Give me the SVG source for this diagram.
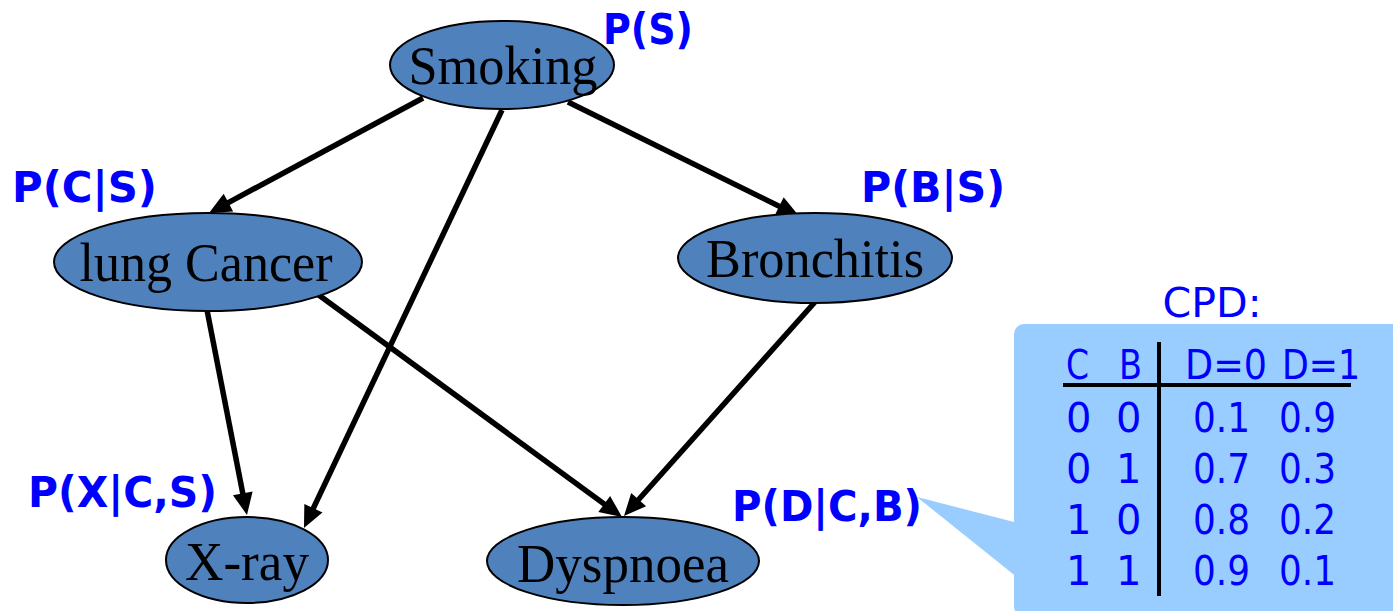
<svg xmlns="http://www.w3.org/2000/svg" width="1393" height="611" viewBox="0 0 1393 611">
  <style>
    .node ellipse { fill: #4f81bd; stroke: #000; stroke-width: 2; }
    .node text { font-family: "Liberation Serif", "Times New Roman", serif; font-size: 54px; fill: #000; text-anchor: middle; }
    .edge { stroke: #000; stroke-width: 5.5; fill: none; marker-end: url(#arrow); }
    .prob { font-family: "DejaVu Sans", Verdana, sans-serif; font-weight: bold; font-size: 42px; fill: #0000ff; }
    .cpd { font-family: "DejaVu Sans", Verdana, sans-serif; font-size: 40px; fill: #0000ff; }
  </style>
  <defs>
    <marker id="arrow" markerUnits="userSpaceOnUse" markerWidth="22" markerHeight="20" refX="10" refY="10" orient="auto" overflow="visible">
      <path d="M0,0 L22,10 L0,20 z" fill="#000"/>
    </marker>
  </defs>

  <!-- connectors -->
  <g id="edges">
    <path class="edge" d="M423,98 L219.6,207.3"/>
    <path class="edge" d="M502,110 L309.1,517.2"/>
    <path class="edge" d="M568,102 L788.2,210.7"/>
    <path class="edge" d="M207,310 L244.7,503.2"/>
    <path class="edge" d="M316,293 L612.3,509.9"/>
    <path class="edge" d="M815,302 L632,507"/>
  </g>

  <!-- network nodes -->
  <g id="smoking" class="node">
    <ellipse cx="502" cy="65" rx="112" ry="44"/>
    <text x="503" y="84" textLength="189" lengthAdjust="spacingAndGlyphs">Smoking</text>
  </g>
  <g id="lung-cancer" class="node">
    <ellipse cx="208" cy="262" rx="154" ry="49"/>
    <text x="206" y="281" textLength="253" lengthAdjust="spacingAndGlyphs">lung Cancer</text>
  </g>
  <g id="bronchitis" class="node">
    <ellipse cx="815" cy="258" rx="137" ry="45"/>
    <text x="815" y="277" textLength="218" lengthAdjust="spacingAndGlyphs">Bronchitis</text>
  </g>
  <g id="x-ray" class="node">
    <ellipse cx="247" cy="560" rx="81" ry="43"/>
    <text x="247" y="580" textLength="124" lengthAdjust="spacingAndGlyphs">X-ray</text>
  </g>
  <g id="dyspnoea" class="node">
    <ellipse cx="623" cy="561" rx="136" ry="44"/>
    <text x="623" y="582" textLength="212" lengthAdjust="spacingAndGlyphs">Dyspnoea</text>
  </g>

  <!-- probability labels -->
  <g id="labels">
    <text class="prob" x="603" y="44" textLength="90" lengthAdjust="spacingAndGlyphs">P(S)</text>
    <text class="prob" x="12" y="202" textLength="145" lengthAdjust="spacingAndGlyphs">P(C|S)</text>
    <text class="prob" x="861" y="202" textLength="144" lengthAdjust="spacingAndGlyphs">P(B|S)</text>
    <text class="prob" x="28" y="507" textLength="189" lengthAdjust="spacingAndGlyphs">P(X|C,S)</text>
    <text class="prob" x="732" y="521" textLength="190" lengthAdjust="spacingAndGlyphs">P(D|C,B)</text>
  </g>

  <!-- conditional probability table callout -->
  <g id="cpd">
    <text class="cpd" x="1212" y="317" text-anchor="middle" font-size="44" textLength="99" lengthAdjust="spacingAndGlyphs">CPD:</text>
    <polygon points="917,497 1018,523 1018,578" fill="#99ccff"/>
    <rect x="1014" y="324" width="390" height="292" rx="10" fill="#99ccff"/>
    <line x1="1159" y1="342" x2="1159" y2="596" stroke="#000" stroke-width="4"/>
    <line x1="1063" y1="385" x2="1351" y2="385" stroke="#000" stroke-width="4"/>
    <g class="cpd">
      <text x="1066" y="379" textLength="23" lengthAdjust="spacingAndGlyphs">C</text>
      <text x="1119" y="379" textLength="23" lengthAdjust="spacingAndGlyphs">B</text>
      <text x="1185" y="379" textLength="82" lengthAdjust="spacingAndGlyphs">D=0</text>
      <text x="1282" y="379" textLength="78" lengthAdjust="spacingAndGlyphs">D=1</text>

      <text x="1066" y="432">0</text><text x="1116" y="432">0</text>
      <text x="1193" y="432" textLength="57" lengthAdjust="spacingAndGlyphs">0.1</text><text x="1279" y="432" textLength="57" lengthAdjust="spacingAndGlyphs">0.9</text>

      <text x="1066" y="483">0</text><text x="1116" y="483">1</text>
      <text x="1193" y="483" textLength="57" lengthAdjust="spacingAndGlyphs">0.7</text><text x="1279" y="483" textLength="57" lengthAdjust="spacingAndGlyphs">0.3</text>

      <text x="1066" y="534">1</text><text x="1116" y="534">0</text>
      <text x="1193" y="534" textLength="57" lengthAdjust="spacingAndGlyphs">0.8</text><text x="1279" y="534" textLength="57" lengthAdjust="spacingAndGlyphs">0.2</text>

      <text x="1066" y="585">1</text><text x="1116" y="585">1</text>
      <text x="1193" y="585" textLength="57" lengthAdjust="spacingAndGlyphs">0.9</text><text x="1279" y="585" textLength="57" lengthAdjust="spacingAndGlyphs">0.1</text>
    </g>
  </g>
</svg>
